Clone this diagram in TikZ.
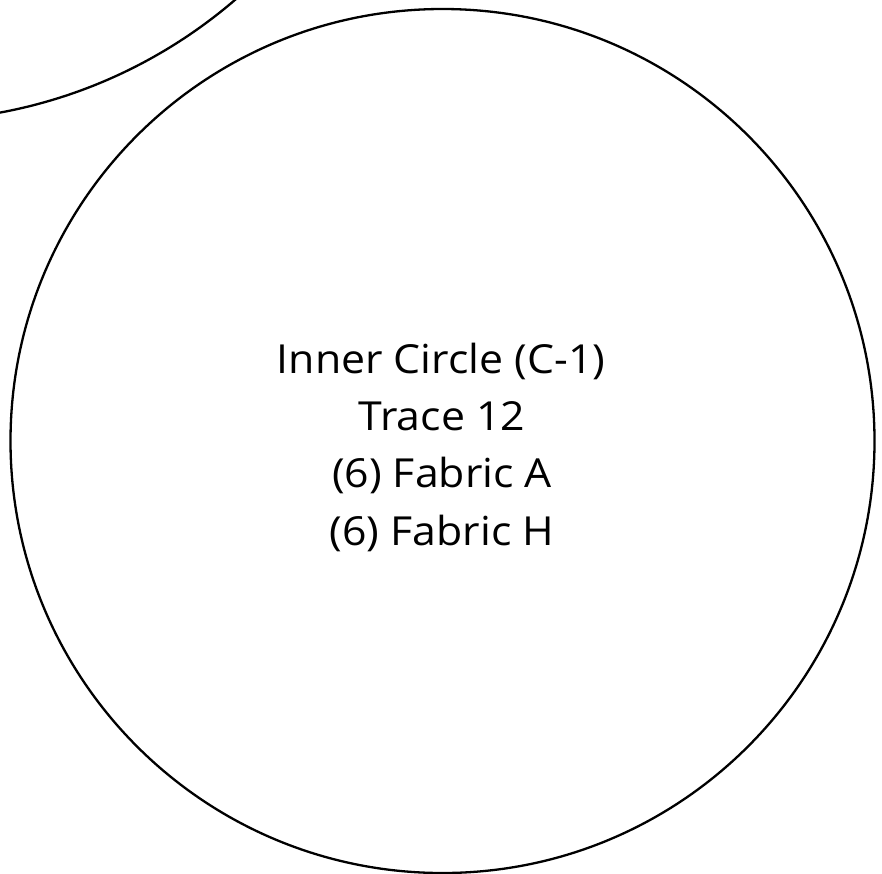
\documentclass[tikz,border=0pt]{standalone}
\usepackage{fontspec}
\setmainfont{Open Sans}[FakeStretch=1.07]
\tikzset{
  ring/.style={draw=black, line width=2.3pt},
  lbl/.style={anchor=base, inner sep=0pt, font=\fontsize{40}{57}\selectfont}
}
\begin{document}
\begin{tikzpicture}[x=1pt,y=-1pt]
\useasboundingbox (0,0) rectangle (882,873);
\clip (0,0) rectangle (882,873);
\fill[white] (0,0) rectangle (882,873);
\node (outer) [ring, circle, minimum size=1004pt, inner sep=0pt] at (-92,-381) {};
\node (inner) [ring, circle, minimum size=864pt, inner sep=0pt] at (442.5,441) {};
\node (t1) [lbl] at (441,373.3) {Inner Circle (C-1)};
\node (t2) [lbl] at (442,430.5) {Trace 12};
\node (t3) [lbl] at (442,487.7) {(6) Fabric A};
\node (t4) [lbl] at (442,545) {(6) Fabric H};
\end{tikzpicture}
\end{document}
